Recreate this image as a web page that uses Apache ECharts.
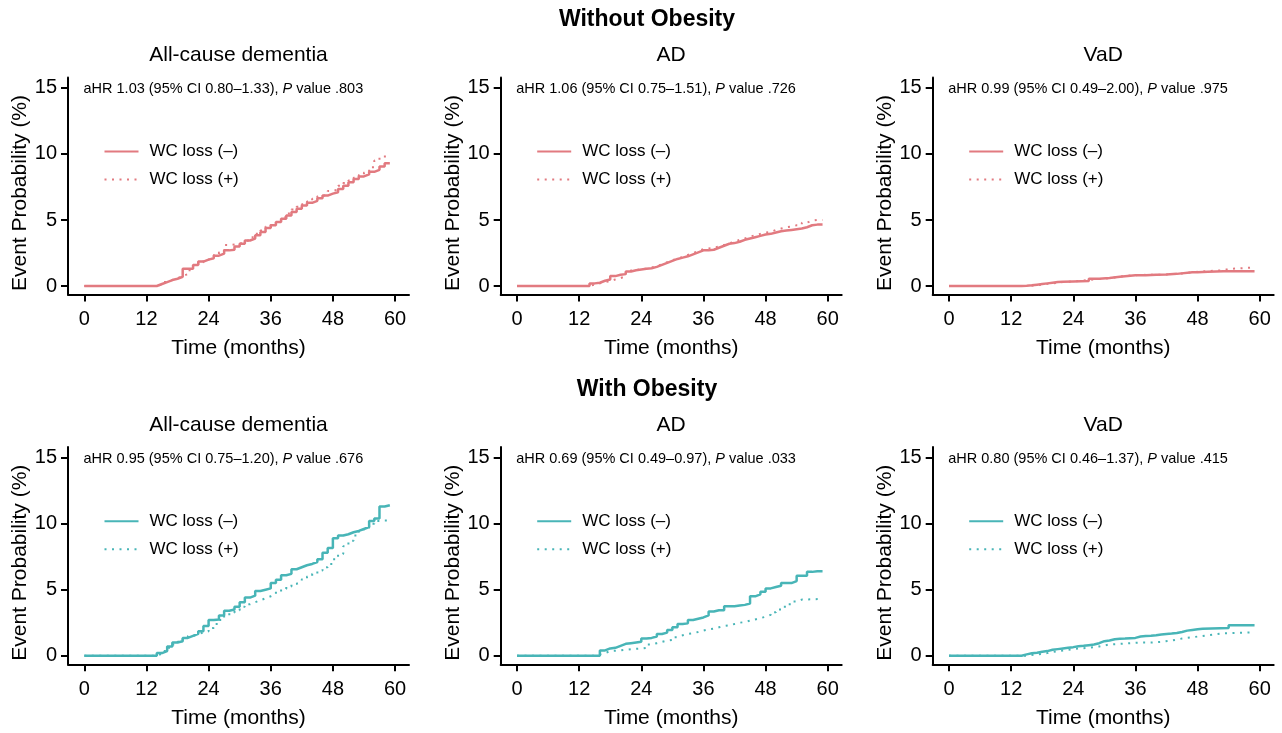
<!DOCTYPE html>
<html>
<head>
<meta charset="utf-8">
<script src="https://cdn.jsdelivr.net/npm/echarts@6/dist/echarts.min.js"></script>
<style>
  html, body { margin: 0; padding: 0; background: #fff; }
  #chart { width: 1282px; height: 733px; }
</style>
</head>
<body>
<div id="chart"></div>
<script>
// Cumulative event probability (%) by month, Kaplan–Meier style step curves.
// Each entry is [month, percent].
const xTicks = [0, 12, 24, 36, 48, 60];
const yTicks = [0, 5, 10, 15];
const groupTitles = ['Without Obesity', 'With Obesity'];
const outcomeTitles = ['All-cause dementia', 'AD', 'VaD'];
const legendLabels = ['WC loss (–)', 'WC loss (+)'];

// Hazard ratio annotations: [aHR, CI low, CI high, P value]
const statsWithout = [['1.03', '0.80', '1.33', '.803'], ['1.06', '0.75', '1.51', '.726'], ['0.99', '0.49', '2.00', '.975']];
const statsWith = [['0.95', '0.75', '1.20', '.676'], ['0.69', '0.49', '0.97', '.033'], ['0.80', '0.46', '1.37', '.415']];

// Without obesity — all-cause dementia
const noObAllNoLoss = [[0,0],[13,0],[14,0.15],[15,0.3],[16,0.45],[17,0.55],[18,0.7],[19,1.3],[20,1.3],[21,1.6],[22,1.85],[23,2.0],[24,2.1],[25,2.3],[26,2.45],[27,2.7],[28,2.75],[29,3.0],[30,3.2],[31,3.45],[32,3.6],[33,3.85],[34,4.1],[35,4.4],[36,4.6],[37,4.85],[38,5.1],[39,5.35],[40,5.6],[41,5.85],[42,6.1],[43,6.3],[44,6.45],[45,6.65],[46,6.85],[47,7.0],[48,7.1],[49,7.35],[50,7.6],[51,7.85],[52,8.1],[53,8.3],[54,8.45],[55,8.65],[56,8.8],[57,9.05],[58,9.3],[59,9.3]];
const noObAllLoss = [[0,0],[13,0],[14,0.1],[15,0.3],[16,0.45],[17,0.6],[18,0.75],[19,0.9],[20,1.2],[21,1.5],[22,1.8],[23,2.0],[24,2.15],[25,2.35],[26,2.55],[27,3.1],[28,3.15],[29,3.2],[30,3.35],[31,3.5],[32,3.7],[33,3.95],[34,4.2],[35,4.5],[36,4.7],[37,4.95],[38,5.2],[39,5.5],[40,5.8],[41,6.0],[42,6.2],[43,6.4],[44,6.6],[45,6.8],[46,6.95],[47,7.2],[48,7.3],[49,7.6],[50,7.8],[51,8.0],[52,8.2],[53,8.4],[54,8.6],[55,9.0],[56,9.5],[57,9.8],[58,9.8],[59,9.8]];
// Without obesity — AD
const noObAdNoLoss = [[0,0],[13,0],[14,0.2],[15,0.25],[16,0.4],[17,0.5],[18,0.75],[19,0.85],[20,0.9],[21,1.1],[22,1.2],[23,1.25],[24,1.3],[25,1.35],[26,1.45],[27,1.6],[28,1.75],[29,1.9],[30,2.05],[31,2.15],[32,2.25],[33,2.4],[34,2.55],[35,2.7],[36,2.7],[37,2.75],[38,2.9],[39,3.05],[40,3.2],[41,3.25],[42,3.35],[43,3.5],[44,3.6],[45,3.7],[46,3.8],[47,3.9],[48,3.95],[49,4.05],[50,4.15],[51,4.2],[52,4.25],[53,4.3],[54,4.35],[55,4.45],[56,4.6],[57,4.65],[58,4.65],[59,4.65]];
const noObAdLoss = [[0,0],[13,0],[14,0.1],[15,0.2],[16,0.3],[17,0.35],[18,0.5],[19,0.6],[20,0.75],[21,1.0],[22,1.2],[23,1.3],[24,1.3],[25,1.4],[26,1.5],[27,1.65],[28,1.8],[29,1.95],[30,2.1],[31,2.2],[32,2.35],[33,2.5],[34,2.65],[35,2.8],[36,2.85],[37,2.9],[38,3.0],[39,3.1],[40,3.25],[41,3.35],[42,3.5],[43,3.6],[44,3.75],[45,3.85],[46,3.95],[47,4.05],[48,4.1],[49,4.25],[50,4.35],[51,4.45],[52,4.5],[53,4.6],[54,4.6],[55,4.8],[56,4.95],[57,5.0],[58,5.0],[59,5.0]];
// Without obesity — VaD
const noObVadNoLoss = [[0,0],[13,0],[14,0.02],[15,0.05],[16,0.1],[17,0.15],[18,0.2],[19,0.25],[20,0.3],[21,0.32],[22,0.35],[24,0.38],[27,0.55],[29,0.6],[31,0.7],[33,0.82],[36,0.82],[38,0.85],[40,0.88],[42,0.92],[44,1.05],[47,1.05],[48,1.08],[50,1.12],[53,1.12],[59,1.12]];
const noObVadLoss = [[0,0],[13,0],[15,0.05],[17,0.12],[18,0.2],[20,0.3],[22,0.35],[24,0.42],[26,0.5],[28,0.55],[30,0.65],[32,0.72],[33,0.82],[36,0.85],[38,0.85],[41,0.9],[43,0.95],[45,1.05],[47,1.1],[49,1.15],[51,1.2],[53,1.3],[54,1.4],[59,1.4]];

// With obesity — all-cause dementia
const obAllNoLoss = [[0,0],[13,0],[14,0.2],[15,0.35],[16,0.7],[17,1.0],[18,1.1],[19,1.35],[20,1.5],[21,1.65],[22,1.85],[23,2.25],[24,2.7],[25,2.75],[26,3.05],[27,3.4],[28,3.5],[29,3.7],[30,4.05],[31,4.4],[32,4.55],[33,4.9],[34,5.0],[35,5.1],[36,5.5],[37,5.75],[38,6.1],[39,6.2],[40,6.55],[41,6.7],[42,6.85],[43,6.95],[44,7.1],[45,7.3],[46,7.8],[47,8.15],[48,8.9],[49,9.1],[50,9.2],[51,9.35],[52,9.45],[53,9.6],[54,9.75],[55,10.2],[56,10.4],[57,11.3],[58,11.4],[59,11.4]];
const obAllLoss = [[0,0],[13,0],[14,0.15],[15,0.35],[16,0.6],[17,0.85],[18,1.05],[19,1.3],[20,1.5],[21,1.65],[22,1.75],[23,1.85],[24,2.1],[25,2.4],[26,2.7],[27,3.0],[28,3.25],[29,3.45],[30,3.7],[31,3.9],[32,4.05],[33,4.2],[34,4.35],[35,4.5],[36,4.65],[37,4.85],[38,5.05],[39,5.25],[40,5.45],[41,5.6],[42,5.8],[43,6.0],[44,6.2],[45,6.45],[46,6.7],[47,6.95],[48,7.3],[49,7.7],[50,8.3],[51,8.7],[52,9.1],[53,9.4],[54,9.7],[55,10.0],[56,10.2],[57,10.25],[58,10.25],[59,10.25]];
// With obesity — AD
const obAdNoLoss = [[0,0],[13,0],[16,0.4],[17,0.55],[18,0.6],[19,0.75],[20,0.9],[21,0.95],[22,1.0],[23,1.05],[24,1.3],[25,1.35],[26,1.45],[27,1.65],[28,1.75],[29,1.95],[30,2.15],[31,2.4],[32,2.45],[33,2.7],[34,2.8],[35,2.9],[36,3.05],[37,3.35],[38,3.45],[39,3.45],[40,3.75],[41,3.75],[42,3.8],[43,3.85],[44,3.95],[45,4.5],[46,4.65],[47,4.85],[48,5.1],[49,5.2],[50,5.3],[51,5.5],[52,5.5],[53,5.65],[54,6.05],[55,6.05],[56,6.35],[57,6.4],[58,6.4],[59,6.4]];
const obAdLoss = [[0,0],[13,0],[15,0.1],[16,0.2],[17,0.35],[18,0.4],[20,0.5],[22,0.55],[24,0.6],[25,0.85],[26,0.95],[27,1.05],[28,1.15],[29,1.2],[30,1.4],[31,1.55],[32,1.65],[33,1.7],[34,1.8],[35,1.9],[36,2.0],[37,2.05],[38,2.15],[39,2.25],[40,2.3],[41,2.4],[42,2.5],[43,2.55],[44,2.65],[45,2.75],[46,2.85],[47,2.95],[48,3.1],[49,3.3],[50,3.5],[51,3.7],[52,3.9],[53,4.1],[54,4.25],[55,4.3],[59,4.3]];
// With obesity — VaD
const obVadNoLoss = [[0,0],[13,0],[14,0.1],[15,0.18],[16,0.22],[17,0.3],[18,0.35],[19,0.45],[20,0.5],[21,0.55],[22,0.6],[23,0.65],[24,0.72],[25,0.75],[26,0.8],[27,0.85],[28,0.95],[29,1.1],[30,1.15],[31,1.25],[32,1.28],[33,1.3],[34,1.33],[35,1.35],[36,1.45],[37,1.5],[38,1.52],[39,1.55],[40,1.6],[41,1.65],[42,1.68],[43,1.72],[44,1.8],[45,1.9],[46,1.95],[47,2.0],[48,2.05],[49,2.1],[54,2.3],[59,2.3]];
const obVadLoss = [[0,0],[13,0],[15,0.1],[17,0.2],[19,0.35],[21,0.45],[23,0.55],[25,0.6],[27,0.7],[29,0.85],[31,0.9],[33,0.95],[35,1.0],[37,1.0],[39,1.05],[41,1.15],[43,1.3],[45,1.4],[47,1.5],[49,1.6],[51,1.7],[53,1.78],[59,1.78]];

const curves = [
  [[noObAllNoLoss, noObAllLoss], [noObAdNoLoss, noObAdLoss], [noObVadNoLoss, noObVadLoss]],
  [[obAllNoLoss, obAllLoss], [obAdNoLoss, obAdLoss], [obVadNoLoss, obVadLoss]]
];
const stats = [statsWithout, statsWith];

const rowColors = ['#E27A80', '#48B5B7'];
const FONT = 'Liberation Sans, Arial, Helvetica, sans-serif';

// Panel geometry
const gridLefts = [68, 500.7, 932.7];
const gridWidth = 341;
const gridTops = [77.4, 447.1];
const gridHeight = 217.2;
const xMin = -3.15, xMax = 62.7;
const yMin = -0.65, yMax = 15.8;

const chart = echarts.init(document.getElementById('chart'), null, { renderer: 'canvas' });

const grid = [], xAxis = [], yAxis = [], series = [], title = [], legend = [];
const legendNameMap = {};

title.push({ text: groupTitles[0], left: 647, top: 8, textAlign: 'center', padding: 0,
  textStyle: { fontFamily: FONT, fontSize: 23, fontWeight: 'bold', color: '#000', lineHeight: 24 } });
title.push({ text: groupTitles[1], left: 647, top: 378, textAlign: 'center', padding: 0,
  textStyle: { fontFamily: FONT, fontSize: 23, fontWeight: 'bold', color: '#000', lineHeight: 24 } });

for (let r = 0; r < 2; r++) {
  for (let c = 0; c < 3; c++) {
    const idx = r * 3 + c;
    const left = gridLefts[c];
    const top = gridTops[r];
    grid.push({ left: left, top: top, width: gridWidth, height: gridHeight, containLabel: false });
    xAxis.push({
      type: 'value', gridIndex: idx, min: xMin, max: xMax,
      name: 'Time (months)', nameLocation: 'middle', nameGap: 43,
      nameTextStyle: { fontFamily: FONT, fontSize: 21, color: '#000' },
      axisLine: { onZero: false, lineStyle: { color: '#000', width: 2 } },
      axisTick: { show: true, length: 7, lineStyle: { color: '#000', width: 2 }, customValues: xTicks },
      axisLabel: { fontFamily: FONT, fontSize: 20, color: '#000', margin: 15, customValues: xTicks },
      splitLine: { show: false }
    });
    yAxis.push({
      type: 'value', gridIndex: idx, min: yMin, max: yMax,
      name: 'Event Probability (%)', nameLocation: 'middle', nameGap: 35, nameRotate: 90,
      nameTextStyle: { fontFamily: FONT, fontSize: 21, color: '#000', padding: [0, 14, 0, 0] },
      axisLine: { show: true, onZero: false, lineStyle: { color: '#000', width: 2 } },
      axisTick: { show: true, length: 7, lineStyle: { color: '#000', width: 2 }, customValues: yTicks },
      axisLabel: { fontFamily: FONT, fontSize: 20, color: '#000', margin: 11, customValues: yTicks },
      splitLine: { show: false }
    });

    const color = rowColors[r];
    const ids = ['p' + idx + '-neg', 'p' + idx + '-pos'];
    legendNameMap[ids[0]] = legendLabels[0];
    legendNameMap[ids[1]] = legendLabels[1];

    // WC loss (–): solid
    series.push({
      name: ids[0], type: 'line', xAxisIndex: idx, yAxisIndex: idx,
      data: curves[r][c][0], step: 'end', symbol: 'none', z: 3,
      lineStyle: { color: color, width: 2.5 }, itemStyle: { color: color }
    });
    // WC loss (+): dotted
    series.push({
      name: ids[1], type: 'line', xAxisIndex: idx, yAxisIndex: idx,
      data: curves[r][c][1], step: 'end', symbol: 'none', z: 2,
      lineStyle: { color: color, width: 2, type: [2, 5.5] }, itemStyle: { color: color }
    });

    // Line-only legend keys (marker hidden)
    legend.push({
      data: ids, orient: 'vertical', left: left + 35.5, top: top + 65.6, padding: 0,
      itemWidth: 34, itemHeight: 14, itemGap: 11, selectedMode: false,
      itemStyle: { opacity: 0 },
      formatter: (n) => legendNameMap[n],
      textStyle: { fontFamily: FONT, fontSize: 17, color: '#000', lineHeight: 17, padding: [0, 0, 0, 6] }
    });

    // Panel title
    title.push({
      text: outcomeTitles[c], left: left + gridWidth / 2, top: r === 0 ? 44 : 414, textAlign: 'center', padding: 0,
      textStyle: { fontFamily: FONT, fontSize: 21, fontWeight: 'normal', color: '#000', lineHeight: 22 }
    });
    // Hazard ratio annotation
    const s = stats[r][c];
    title.push({
      text: 'aHR ' + s[0] + ' (95% CI ' + s[1] + '–' + s[2] + '), {i|P} value ' + s[3],
      left: left + 15.5, top: top + 4, padding: 0,
      textStyle: {
        fontFamily: FONT, fontSize: 14.5, fontWeight: 'normal', color: '#000', lineHeight: 16,
        rich: { i: { fontFamily: FONT, fontSize: 14.5, fontStyle: 'italic', color: '#000', lineHeight: 16 } }
      }
    });
  }
}

chart.setOption({
  animation: false,
  backgroundColor: '#fff',
  title: title,
  legend: legend,
  grid: grid,
  xAxis: xAxis,
  yAxis: yAxis,
  series: series
});
</script>
</body>
</html>
